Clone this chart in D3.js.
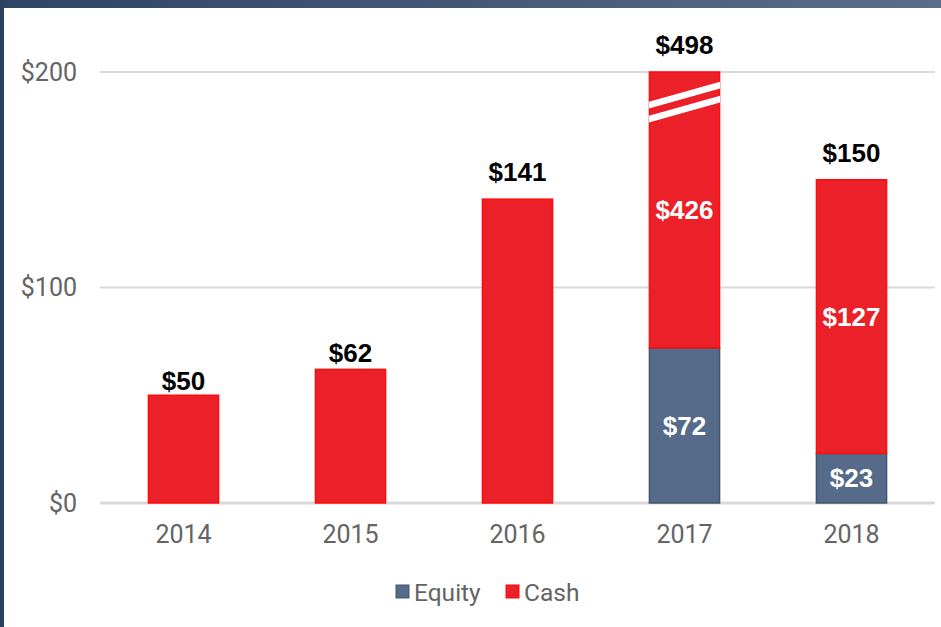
<!DOCTYPE html>
<html><head><meta charset="utf-8">
<script src="https://cdn.jsdelivr.net/npm/d3@7"></script>
<style>
html,body{margin:0;padding:0;background:#fff;}
svg{display:block;}
</style></head>
<body>
<script>
const years = ["2014","2015","2016","2017","2018"];
const equity = [0, 0, 0, 72, 23];
const cash = [50, 62, 141, 426, 127];
const totals = [50, 62, 141, 498, 150];
const yTicks = [0, 100, 200];
const seriesNames = ["Equity", "Cash"];

const W = 941, H = 627;
const colors = {Equity:"#556b89", Cash:"#ec2029"};
const strokes = {Equity:"#44566f", Cash:"#ff0d0d"};

const svg = d3.select("body").append("svg").attr("width", W).attr("height", H);

// decorative frame
const grad = svg.append("defs").append("linearGradient").attr("id","bg").attr("x1","0").attr("x2","1");
grad.append("stop").attr("offset","0").attr("stop-color","#2e4465");
grad.append("stop").attr("offset","1").attr("stop-color","#5b6d88");
svg.append("rect").attr("x",0).attr("y",0).attr("width",W).attr("height",8).attr("fill","url(#bg)");
svg.append("rect").attr("x",0).attr("y",0).attr("width",4).attr("height",H).attr("fill","#2b4162");

const x = d3.scaleBand().domain(years).range([100, 935]).paddingInner(0.58).paddingOuter(0.29);
const y = d3.scaleLinear().domain([0, 200]).range([503, 72]);
const yMax = 200;

// gridlines
svg.append("g").selectAll("line").data(yTicks).join("line")
  .attr("x1", 100).attr("x2", 935)
  .attr("y1", d => y(d)).attr("y2", d => y(d))
  .attr("stroke", "#d9d9d9").attr("stroke-width", d => d === 0 ? 3 : 2);

const axisFont = "Roboto, 'Liberation Sans', sans-serif";
const boldFont = "'Liberation Sans', Arial, sans-serif";

// y labels
svg.append("g").selectAll("text").data(yTicks).join("text")
  .attr("x", 77).attr("y", d => y(d)).attr("dy", "0.35em")
  .attr("text-anchor", "end").attr("font-family", axisFont).attr("font-size", 25)
  .attr("fill", "#646464").text(d => "$" + d3.format(",")(d));

// x labels
svg.append("g").selectAll("text").data(years).join("text")
  .attr("x", d => x(d) + x.bandwidth()/2).attr("y", 534).attr("dy", "0.35em")
  .attr("text-anchor", "middle").attr("font-family", axisFont).attr("font-size", 25)
  .attr("fill", "#646464").text(d => d);

// stacked data
const rows = years.map((yr, i) => ({year: yr, Equity: equity[i], Cash: cash[i]}));
const stack = d3.stack().keys(seriesNames)(rows);

const gBars = svg.append("g");
stack.forEach(layer => {
  gBars.append("g").selectAll("rect").data(layer.filter(d => d[1] - d[0] > 0)).join("rect")
    .attr("x", d => x(d.data.year))
    .attr("width", x.bandwidth())
    .attr("y", d => y(Math.min(d[1], yMax)))
    .attr("height", d => y(d[0]) - y(Math.min(d[1], yMax)))
    .attr("fill", colors[layer.key])
    .attr("stroke", strokes[layer.key]).attr("stroke-width", 1.5);
});

// axis break on bars exceeding the scale
const brokenYears = years.filter((yr, i) => totals[i] > yMax);
const breakVal = 186;
brokenYears.forEach(yr => {
  const x0 = x(yr) - 0.5, x1 = x(yr) + x.bandwidth() + 0.5;
  const yc = y(breakVal);
  [-7, 7].forEach(off => {
    svg.append("path")
      .attr("d", `M${x0},${yc + off + 10 - 3.3}L${x1},${yc + off - 10 - 3.3}L${x1},${yc + off - 10 + 3.3}L${x0},${yc + off + 10 + 3.3}Z`)
      .attr("fill", "#fff");
  });
});

// inner value labels
stack.forEach(layer => {
  svg.append("g").selectAll("text")
    .data(layer.filter((d, i) => equity[i] > 0 && d[1] - d[0] > 0)).join("text")
    .attr("x", d => x(d.data.year) + x.bandwidth()/2)
    .attr("y", d => (y(d[0]) + y(Math.min(d[1], yMax))) / 2)
    .attr("dy", "0.35em").attr("text-anchor", "middle")
    .attr("font-family", boldFont).attr("font-weight", "bold").attr("font-size", 26)
    .attr("fill", "#fff").text(d => "$" + (d[1] - d[0]));
});

// total labels
svg.append("g").selectAll("text").data(years).join("text")
  .attr("x", d => x(d) + x.bandwidth()/2)
  .attr("y", (d, i) => {
    const top = y(Math.min(totals[i], yMax));
    const h = y(0) - top;
    return top - Math.min(5 + (h - 107) * 0.09, 18);
  })
  .attr("text-anchor", "middle")
  .attr("font-family", boldFont).attr("font-weight", "bold").attr("font-size", 26)
  .attr("fill", "#000").text((d, i) => "$" + totals[i]);

// legend
const legend = svg.append("g");
const legendX = [396, 506];
seriesNames.forEach((s, i) => {
  legend.append("rect").attr("x", legendX[i]).attr("y", 585).attr("width", 13).attr("height", 13)
    .attr("fill", colors[s]).attr("stroke", strokes[s]).attr("stroke-width", 1);
  legend.append("text").attr("x", legendX[i] + 18).attr("y", 592).attr("dy", "0.35em")
    .attr("font-family", axisFont).attr("font-size", 24.5).attr("fill", "#646464").text(s);
});
</script>
</body></html>
